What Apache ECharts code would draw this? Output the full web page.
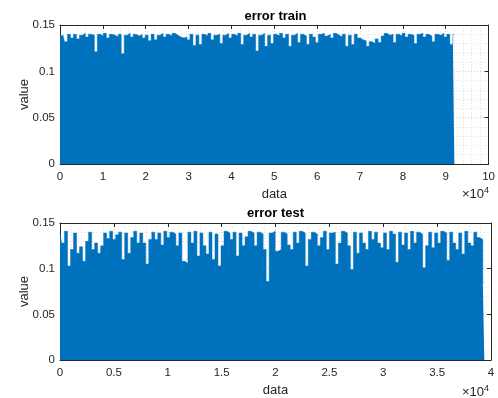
<!DOCTYPE html>
<html>
<head>
<meta charset="utf-8">
<script src="https://cdn.jsdelivr.net/npm/echarts@6/dist/echarts.min.js"></script>
<style>html,body{margin:0;padding:0;background:#fff}#c{width:498px;height:398px}</style>
</head>
<body>
<div id="c"></div>
<script>
// ---- data (upper envelope of the error signal, read per ~3 px bin) ----
const trainLastIndex = 92000;
const trainPeak = [
0.138,0.139,0.132,0.140,0.136,0.140,0.135,0.139,0.141,0.137,
0.140,0.139,0.121,0.140,0.138,0.141,0.136,0.140,0.139,0.137,
0.140,0.119,0.139,0.141,0.137,0.140,0.138,0.140,0.136,0.139,
0.133,0.140,0.134,0.139,0.141,0.137,0.140,0.138,0.141,0.139,
0.137,0.136,0.137,0.134,0.140,0.128,0.139,0.129,0.140,0.138,
0.141,0.134,0.139,0.140,0.130,0.139,0.141,0.136,0.140,0.138,
0.141,0.129,0.139,0.141,0.137,0.140,0.122,0.139,0.141,0.127,
0.139,0.130,0.140,0.138,0.141,0.136,0.140,0.127,0.139,0.141,
0.131,0.140,0.138,0.129,0.140,0.137,0.131,0.140,0.141,0.138,
0.140,0.136,0.141,0.139,0.137,0.140,0.127,0.139,0.129,0.140,
0.136,0.134,0.133,0.127,0.132,0.130,0.135,0.131,0.138,0.141,
0.139,0.140,0.131,0.140,0.138,0.141,0.137,0.140,0.139,0.130,
0.140,0.141,0.137,0.140,0.138,0.132,0.140,0.139,0.141,0.137,
0.140,0.129,0.140
];
const testLastIndex = 39380;
const testPeak = [
0.140,0.128,0.141,0.103,0.121,0.139,0.117,0.124,0.108,0.130,
0.140,0.121,0.128,0.117,0.125,0.139,0.133,0.141,0.132,0.137,
0.140,0.110,0.139,0.117,0.134,0.141,0.128,0.139,0.128,0.105,
0.132,0.140,0.132,0.139,0.126,0.141,0.134,0.140,0.138,0.125,
0.139,0.108,0.106,0.140,0.128,0.141,0.114,0.139,0.125,0.116,
0.140,0.110,0.138,0.103,0.125,0.141,0.139,0.132,0.140,0.114,
0.139,0.125,0.135,0.141,0.139,0.125,0.140,0.138,0.121,0.086,
0.139,0.141,0.119,0.121,0.140,0.138,0.126,0.121,0.140,0.128,
0.141,0.139,0.103,0.132,0.140,0.138,0.125,0.134,0.141,0.121,
0.139,0.140,0.105,0.128,0.141,0.139,0.125,0.099,0.140,0.117,
0.139,0.128,0.121,0.141,0.132,0.140,0.128,0.123,0.139,0.121,
0.141,0.138,0.107,0.140,0.126,0.139,0.121,0.141,0.128,0.140,
0.138,0.101,0.125,0.140,0.123,0.139,0.128,0.141,0.139,0.109,
0.140,0.128,0.121,0.139,0.116,0.141,0.128,0.125,0.140,0.134,
0.132,0.085
];
const titles = ['error train', 'error test'];
const xMaxes = [100000, 40000];
const xIntervals = [10000, 5000];
const yTicks = [0, 0.05, 0.1, 0.15];

function toSeries(peaks, last) {
  const step = last / (peaks.length - 1);
  return peaks.map((v, i) => [i * step, v]);
}

const TXT = '#262626';
const FONT = 'Liberation Sans, Arial, Helvetica, sans-serif';
const BLUE = '#0072BD';
const gridLine = { show: true, lineStyle: { color: '#d4d4d4', type: [1, 2], width: 1 } };
const minorLine = { show: true, lineStyle: { color: '#e2e2e2', type: [1, 2], width: 1 } };

const grids = [
  { left: 60, top: 25, width: 431, height: 139 },
  { left: 60, top: 223, width: 431, height: 138 }
];

const xAxis = [], yAxis = [], series = [], title = [], graphic = [];
[0, 1].forEach(g => {
  xAxis.push({
    gridIndex: g, type: 'value', min: 0, max: xMaxes[g], interval: xIntervals[g],
    position: 'bottom',
    name: 'data', nameLocation: 'middle', nameGap: 24, nameMoveOverlap: false,
    nameTextStyle: { color: TXT, fontSize: 13, fontFamily: FONT },
    axisLine: { show: true, onZero: false, lineStyle: { color: TXT, width: 1 } },
    axisTick: { show: true, inside: true, length: 4, lineStyle: { color: TXT } },
    axisLabel: { color: TXT, fontSize: 11.5, fontFamily: FONT, margin: 7,
      formatter: v => String(+(v / 10000).toFixed(1)) },
    splitLine: gridLine,
    minorTick: { show: false, splitNumber: 5 },
    minorSplitLine: minorLine
  });
  xAxis.push({
    gridIndex: g, type: 'value', min: 0, max: xMaxes[g], interval: xIntervals[g],
    position: 'top',
    axisLine: { show: true, onZero: false, lineStyle: { color: TXT, width: 1 } },
    axisTick: { show: true, inside: true, length: 4, lineStyle: { color: TXT } },
    axisLabel: { show: false }, splitLine: { show: false }
  });
  yAxis.push({
    gridIndex: g, type: 'value', min: 0, max: 0.15, interval: 0.05,
    position: 'left',
    name: 'value', nameLocation: 'middle', nameGap: 29, nameRotate: 90, nameMoveOverlap: false,
    nameTextStyle: { color: TXT, fontSize: 13, fontFamily: FONT },
    axisLine: { show: true, onZero: false, lineStyle: { color: TXT, width: 1 } },
    axisTick: { show: true, inside: true, length: 4, lineStyle: { color: TXT } },
    axisLabel: { color: TXT, fontSize: 11.5, fontFamily: FONT, margin: 5,
      formatter: v => String(+v.toFixed(2)) },
    splitLine: gridLine,
    minorTick: { show: false, splitNumber: 5 },
    minorSplitLine: minorLine
  });
  yAxis.push({
    gridIndex: g, type: 'value', min: 0, max: 0.15, interval: 0.05,
    position: 'right',
    axisLine: { show: true, onZero: false, lineStyle: { color: TXT, width: 1 } },
    axisTick: { show: true, inside: true, length: 4, lineStyle: { color: TXT } },
    axisLabel: { show: false }, splitLine: { show: false }
  });
  title.push({
    text: titles[g], left: 275.5, textAlign: 'center',
    top: g === 0 ? 10 : 207,
    textStyle: { color: '#000', fontSize: 13, fontWeight: 'bold', fontFamily: FONT },
    padding: 0
  });
  graphic.push({
    type: 'text', left: 462, top: g === 0 ? 186 : 384,
    style: {
      text: '{a|×10}{b|4}',
      rich: {
        a: { fontSize: 13, fontFamily: FONT, fill: TXT, verticalAlign: 'bottom', lineHeight: 15 },
        b: { fontSize: 9, fontFamily: FONT, fill: TXT, verticalAlign: 'top', lineHeight: 15, padding: [0, 0, 6, 0] }
      }
    }
  });
});

series.push({
  type: 'line', xAxisIndex: 0, yAxisIndex: 0, showSymbol: false, animation: false,
  step: 'middle',
  data: toSeries(trainPeak, trainLastIndex), sampling: null,
  lineStyle: { color: BLUE, width: 0.5 }, areaStyle: { color: BLUE, opacity: 1 }
});
series.push({
  type: 'line', xAxisIndex: 2, yAxisIndex: 2, showSymbol: false, animation: false,
  step: 'middle',
  data: toSeries(testPeak, testLastIndex), sampling: null,
  lineStyle: { color: BLUE, width: 0.5 }, areaStyle: { color: BLUE, opacity: 1 }
});

const chart = echarts.init(document.getElementById('c'), null, { renderer: 'canvas' });
chart.setOption({
  animation: false, backgroundColor: '#fff',
  title, grid: grids, xAxis, yAxis, series, graphic
});
</script>
</body>
</html>
